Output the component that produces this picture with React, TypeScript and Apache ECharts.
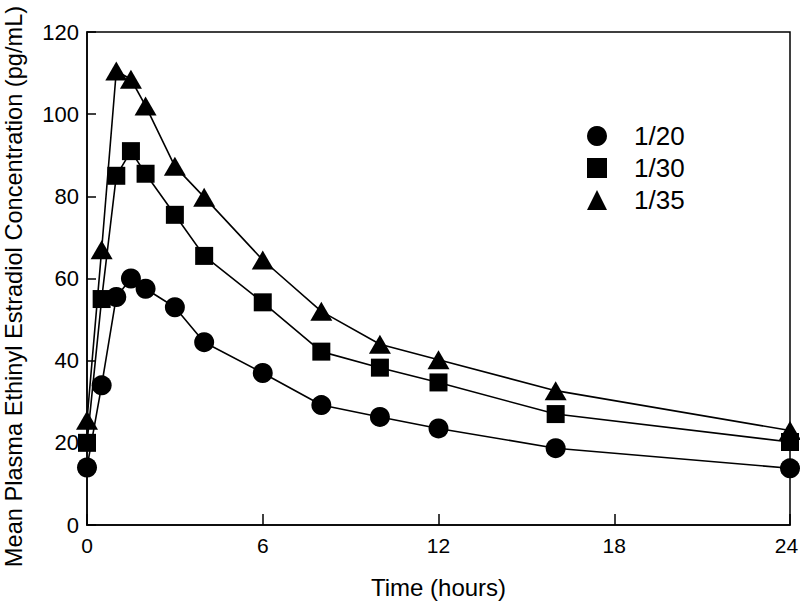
import React, { useEffect, useRef } from "react";
import * as echarts from "echarts";

const timeHours = [0, 0.5, 1, 1.5, 2, 3, 4, 6, 8, 10, 12, 16, 24];
const dose120 = [14, 34, 55.5, 60, 57.5, 53, 44.5, 37, 29.2, 26.3, 23.5, 18.7, 13.8];
const dose130 = [20, 55, 85, 91, 85.5, 75.5, 65.5, 54.2, 42.2, 38.3, 34.7, 27, 20.2];
const dose135 = [25.5, 67, 110.5, 108.5, 102, 87.3, 79.8, 64.5, 52, 44, 40.2, 32.7, 23];
const seriesNames = ["1/20", "1/30", "1/35"];
const xTicks = { min: 0, max: 24, interval: 6 };
const yTicks = { min: 0, max: 120, interval: 20 };

const pair = (ys: number[]) => timeHours.map((t, i) => [t, ys[i]]);

export default function App() {
  const ref = useRef<HTMLDivElement>(null);
  useEffect(() => {
    if (!ref.current) return;
    const chart = echarts.init(ref.current, undefined, { renderer: "svg" });
    const textFont = "'Liberation Sans', Arial, sans-serif";
    const lineCommon = {
      type: "line" as const,
      color: "#000",
      lineStyle: { color: "#000", width: 1.6 },
      itemStyle: { color: "#000" },
      z: 2,
    };
    chart.setOption({
      animation: false,
      backgroundColor: "#fff",
      grid: {
        left: 87,
        right: 10,
        top: 32,
        bottom: 76,
        outerBoundsMode: "none",
        containLabel: false,
        show: true,
        borderColor: "#000",
        borderWidth: 1.5,
        backgroundColor: "transparent",
      },
      legend: {
        orient: "vertical",
        left: 587,
        top: 123,
        padding: 0,
        itemWidth: 20,
        itemHeight: 20,
        itemGap: 6,
        selectedMode: false,
        data: [
          { name: seriesNames[0], icon: "circle" },
          { name: seriesNames[1], icon: "rect" },
          { name: seriesNames[2], icon: "triangle" },
        ],
        textStyle: {
          fontFamily: textFont,
          fontSize: 26,
          lineHeight: 26,
          color: "#000",
          padding: [0, 0, 0, 22],
        },
      },
      xAxis: {
        type: "value",
        min: xTicks.min,
        max: xTicks.max,
        interval: xTicks.interval,
        name: "Time (hours)",
        nameLocation: "middle",
        nameGap: 50,
        nameTextStyle: { fontFamily: textFont, fontSize: 24, color: "#000" },
        axisLine: { show: true, lineStyle: { color: "#000", width: 1.5 } },
        axisTick: { show: true, inside: true, length: 11, lineStyle: { color: "#000", width: 1.5 } },
        axisLabel: {
          margin: 10,
          fontFamily: textFont,
          fontSize: 21,
          color: "#000",
          formatter: (v: number) => (v === xTicks.max ? `{last|${v}}` : `${v}`),
          rich: {
            last: { fontFamily: textFont, fontSize: 21, color: "#000", padding: [0, 7, 0, 0] },
          },
        },
        splitLine: { show: false },
      },
      yAxis: {
        type: "value",
        min: yTicks.min,
        max: yTicks.max,
        interval: yTicks.interval,
        name: "Mean Plasma Ethinyl Estradiol Concentration (pg/mL)",
        nameLocation: "middle",
        nameGap: 61,
        nameTextStyle: {
          fontFamily: textFont,
          fontSize: 23.6,
          color: "#000",
          padding: [0, 16, 0, 0],
        },
        axisLine: { show: true, lineStyle: { color: "#000", width: 1.5 } },
        axisTick: { show: true, inside: true, length: 9, lineStyle: { color: "#000", width: 1.5 } },
        axisLabel: { margin: 8, fontFamily: textFont, fontSize: 22, color: "#000" },
        splitLine: { show: false },
      },
      series: [
        { ...lineCommon, name: seriesNames[0], symbol: "circle", symbolSize: 20, data: pair(dose120) },
        { ...lineCommon, name: seriesNames[1], symbol: "rect", symbolSize: 18, data: pair(dose130) },
        { ...lineCommon, name: seriesNames[2], symbol: "triangle", symbolSize: [22, 19], data: pair(dose135) },
      ],
    });
    return () => chart.dispose();
  }, []);
  return (
    <div
      ref={ref}
      style={{ position: "fixed", left: 0, top: 0, width: 800, height: 601, background: "#fff" }}
    />
  );
}
